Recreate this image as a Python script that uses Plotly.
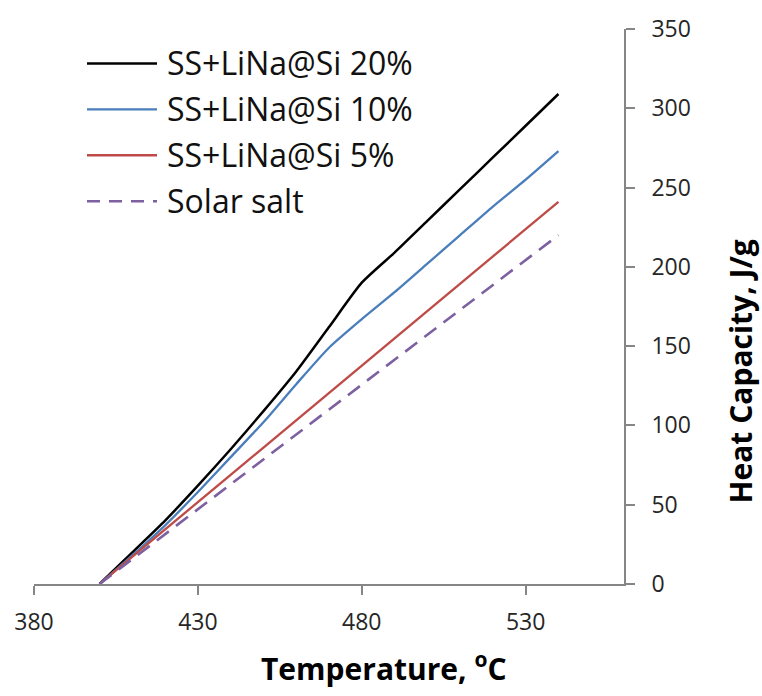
import plotly.graph_objects as go

# Temperature grid (°C) and heat capacity of each sample (J/g)
temperature = [400, 410, 420, 430, 440, 450, 460, 470, 480, 490, 500, 510, 520, 530, 540]
ss_lina_20 = [0, 20, 40, 62, 85, 109, 134, 162, 190, 209, 229, 249, 269, 289, 309]
ss_lina_10 = [0, 18, 37, 58, 80, 102, 126, 149, 167, 184, 202, 220, 238, 255, 273]
ss_lina_5 = [0, 17.2, 34.4, 51.6, 68.9, 86.1, 103.3, 120.5, 137.7, 154.9, 172.1,
             189.4, 206.6, 223.8, 241]
solar_salt = [0, 15.7, 31.4, 47.1, 62.9, 78.6, 94.3, 110, 125.7, 141.4, 157.1,
              172.9, 188.6, 204.3, 220]

series_names = ["SS+LiNa@Si 20%", "SS+LiNa@Si 10%", "SS+LiNa@Si 5%", "Solar salt"]
series_values = [ss_lina_20, ss_lina_10, ss_lina_5, solar_salt]
series_colors = ["#000000", "#4A7EBB", "#BE4B48", "#7D60A0"]
series_widths = [2.5, 2.3, 2.3, 2.6]
series_dash = ["solid", "solid", "solid", "15px,9px"]
series_shape = ["spline", "spline", "linear", "linear"]

x_ticks = [380, 430, 480, 530]
y_ticks = [0, 50, 100, 150, 200, 250, 300, 350]

FONT = "Open Sans"
AXIS_GREY = "#868686"

# plot-area geometry in pixels, used to place the hand-built legend
M_L, M_R, M_T, M_B = 34, 138, 20, 112
W, H = 762, 696
PW, PH = W - M_L - M_R, H - M_T - M_B


def px_x(px):
    return (px - M_L) / PW


def px_y(py):
    return (H - M_B - py) / PH


fig = go.Figure()
for name, vals, col, wid, dash, shp in zip(series_names, series_values, series_colors,
                                           series_widths, series_dash, series_shape):
    fig.add_trace(go.Scatter(
        x=temperature, y=vals, name=name, mode="lines",
        line=dict(color=col, width=wid, dash=dash, shape=shp,
                  smoothing=0.6 if shp == "spline" else None),
        showlegend=False,
    ))

# legend: line sample + label per series
legend_rows = [55, 101.7, 148.3, 195]
shapes = []
annotations = []
for name, col, wid, dash, row in zip(series_names, series_colors, series_widths,
                                     series_dash, legend_rows):
    shapes.append(dict(
        type="line", xref="paper", yref="paper",
        x0=px_x(87), x1=px_x(157), y0=px_y(row), y1=px_y(row),
        line=dict(color=col, width=wid, dash="13px,9px" if dash != "solid" else dash),
    ))
    annotations.append(dict(
        text=name, xref="paper", yref="paper", x=px_x(165), y=px_y(row - 1),
        xanchor="left", yanchor="middle", showarrow=False,
        font=dict(family=FONT, size=32, color="#111111"),
    ))

# axis titles
annotations.append(dict(
    text="<b>Temperature, <sup>o</sup>C</b>", xref="paper", yref="paper",
    x=px_x(384), y=px_y(668), xanchor="center", yanchor="middle", showarrow=False,
    font=dict(family=FONT, size=30, color="#000000"),
))
annotations.append(dict(
    text="<b>Heat Capacity, J/g</b>", xref="paper", yref="paper",
    x=px_x(740), y=px_y(368), xanchor="center", yanchor="middle", showarrow=False,
    textangle=-90, font=dict(family=FONT, size=30, color="#000000"),
))

fig.update_layout(
    width=W, height=H,
    margin=dict(l=M_L, r=M_R, t=M_T, b=M_B),
    paper_bgcolor="white", plot_bgcolor="white",
    font=dict(family=FONT, color="#262626"),
    shapes=shapes, annotations=annotations,
    showlegend=False,
)
fig.update_xaxes(
    range=[380, 560], tickvals=x_ticks, ticktext=[str(v) for v in x_ticks],
    showgrid=False, zeroline=False, showline=True,
    linecolor=AXIS_GREY, linewidth=1.6,
    ticks="outside", ticklen=9, tickwidth=1.6, tickcolor=AXIS_GREY,
    tickfont=dict(family=FONT, size=23, color="#262626"),
    ticklabelstandoff=8,
)
fig.update_yaxes(
    range=[0, 350], tickvals=y_ticks, ticktext=[str(v) for v in y_ticks],
    side="right", showgrid=False, zeroline=False, showline=True,
    linecolor=AXIS_GREY, linewidth=1.6,
    ticks="outside", ticklen=9, tickwidth=1.6, tickcolor=AXIS_GREY,
    tickfont=dict(family=FONT, size=23, color="#262626"),
    ticklabelstandoff=12,
)

fig.write_html("out.html")
